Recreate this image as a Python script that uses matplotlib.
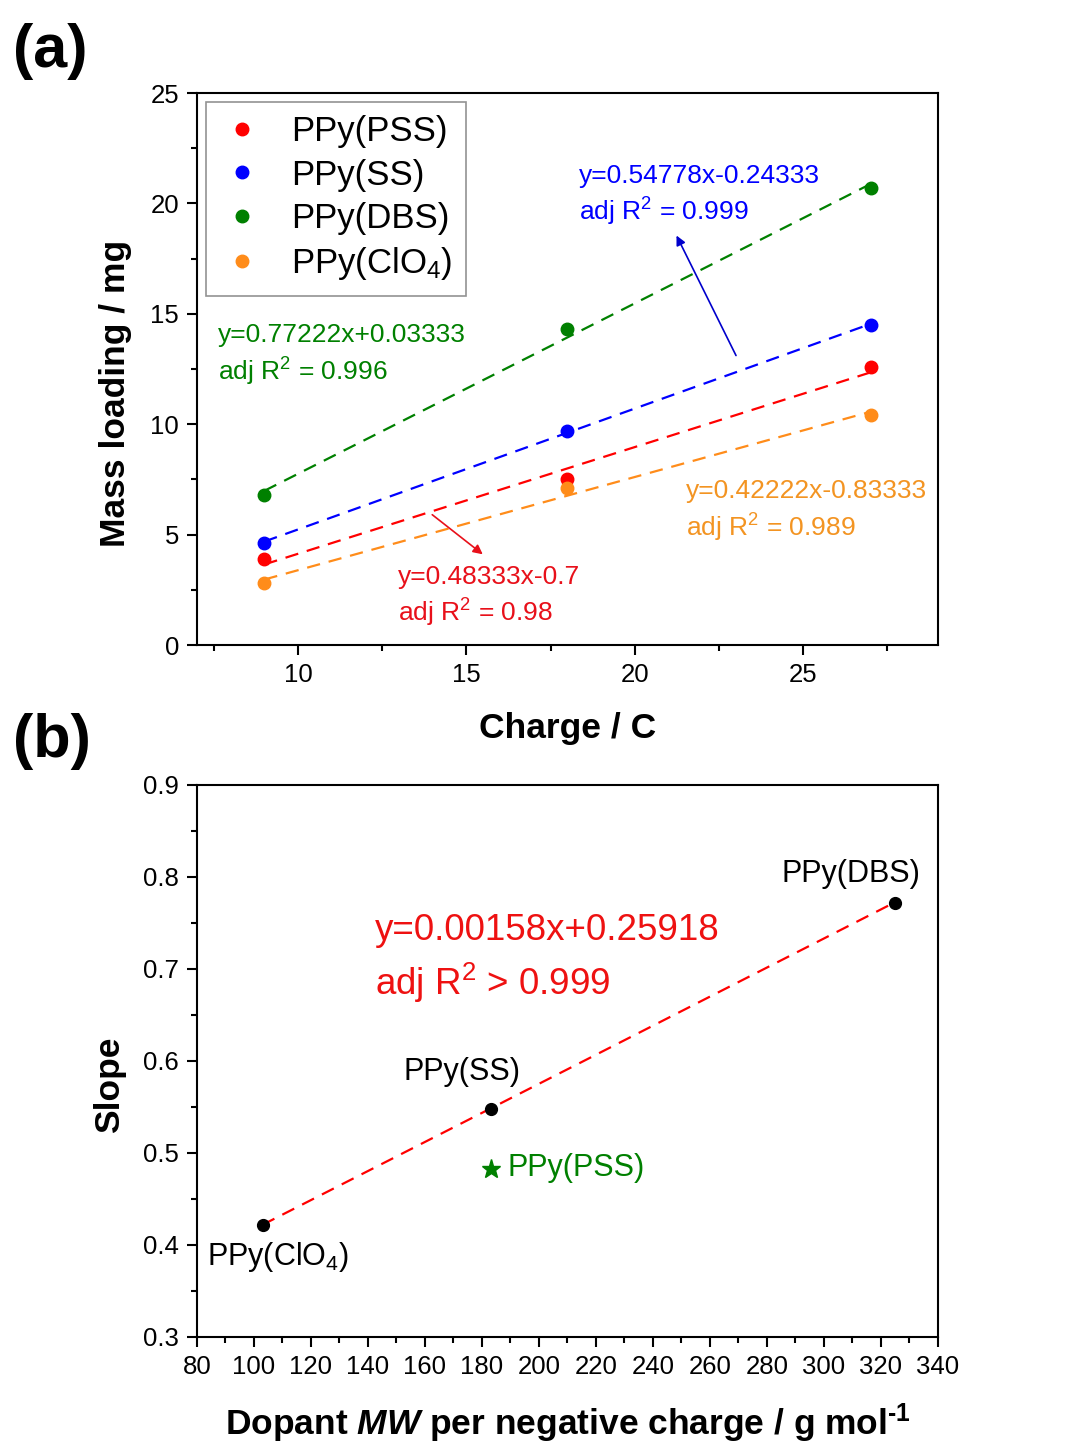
import numpy as np
from matplotlib import pyplot as plt
from matplotlib.ticker import MultipleLocator

plt.rcParams['font.family'] = ['Liberation Sans', 'DejaVu Sans']
plt.rcParams['mathtext.fontset'] = 'custom'
plt.rcParams['mathtext.rm'] = 'Liberation Sans'
plt.rcParams['mathtext.it'] = 'Liberation Sans:italic'
plt.rcParams['mathtext.bf'] = 'Liberation Sans:bold'
plt.rcParams['mathtext.bfit'] = 'Liberation Sans:italic:bold'

# panel (a) data
charge = [9, 18, 27]
names = ['PPy(PSS)', 'PPy(SS)', 'PPy(DBS)', 'PPy(ClO$_4$)']
mass_pss = [3.9, 7.5, 12.6]
mass_ss = [4.6, 9.7, 14.5]
mass_dbs = [6.8, 14.3, 20.7]
mass_clo4 = [2.8, 7.1, 10.4]
slopes = [0.48333, 0.54778, 0.77222, 0.42222]
intercepts = [-0.7, -0.24333, 0.03333, -0.83333]
colors = ['#ff0000', '#0000ff', '#008000', '#ff8c1a']
text_colors = ['#e8101a', '#0000ff', '#008000', '#f39422']

# panel (b) data
mw = [103, 183, 325]
slope_vals = [0.422, 0.548, 0.772]
pt_labels = ['PPy(ClO$_4$)', 'PPy(SS)', 'PPy(DBS)']
pss_mw = 183
pss_slope = 0.483
fit_k, fit_b = 0.00158, 0.25918


def style_axes(ax):
    for s in ax.spines.values():
        s.set_linewidth(1.5)
    ax.tick_params(which='major', direction='out', length=7, width=1.5,
                   labelsize=18.5, pad=6, top=False, right=False)
    ax.tick_params(which='minor', direction='out', length=4, width=1.5,
                   top=False, right=False)


def main():
    fig = plt.figure(figsize=(10.67, 14.43), dpi=100)

    # ---------------- (a)
    ax = fig.add_axes([0.1846, 0.553, 0.6945, 0.3825])
    series = [mass_pss, mass_ss, mass_dbs, mass_clo4]
    xs = np.array([charge[0], charge[-1]])
    for i in range(4):
        ax.plot(charge, series[i], 'o', color=colors[i], ms=9, label=names[i], zorder=3)
        ax.plot(xs, slopes[i] * xs + intercepts[i], '--', color=colors[i],
                lw=1.6, dashes=(6, 4))
    ax.set_xlim(7, 29)
    ax.set_ylim(0, 25)
    ax.xaxis.set_major_locator(MultipleLocator(5))
    ax.xaxis.set_minor_locator(MultipleLocator(2.5))
    ax.yaxis.set_major_locator(MultipleLocator(5))
    ax.yaxis.set_minor_locator(MultipleLocator(2.5))
    style_axes(ax)
    ax.set_xlabel('Charge / C', fontsize=25.5, fontweight='bold', labelpad=18)
    ax.set_ylabel('Mass loading / mg', fontsize=25.5, fontweight='bold')
    ax.yaxis.set_label_coords(-0.088, 0.4565)
    leg = ax.legend(loc='upper left', bbox_to_anchor=(0.012, 0.984), fontsize=25,
                    frameon=True, fancybox=False, borderaxespad=0,
                    handletextpad=0.75, labelspacing=0.3, borderpad=0.38,
                    handlelength=1.33)
    leg.get_frame().set_edgecolor('#777777')
    leg.get_frame().set_linewidth(1.2)

    # fit equations
    eq_pos = [(12.97, 3.08, 1.45), (18.35, 21.24, 19.61),
              (7.62, 14.04, 12.36), (21.52, 6.97, 5.30)]
    r2 = ['0.98', '0.999', '0.996', '0.989']
    for i in range(4):
        k, b = slopes[i], intercepts[i]
        sign = '+' if b >= 0 else '-'
        x0, y1, y2 = eq_pos[i]
        ax.text(x0, y1, 'y=%gx%s%g' % (k, sign, abs(b)), color=text_colors[i],
                fontsize=19, va='center', ha='left')
        ax.text(x0, y2, 'adj R$^2$ = ' + r2[i], color=text_colors[i],
                fontsize=19, va='center', ha='left')
    ax.annotate('', xy=(21.2, 18.66), xytext=(23.04, 13.0),
                arrowprops=dict(arrowstyle='-|>', color='#0000cc', lw=1.2,
                                mutation_scale=14))
    ax.annotate('', xy=(15.55, 4.03), xytext=(13.92, 5.98),
                arrowprops=dict(arrowstyle='-|>', color='#e8101a', lw=1.2,
                                mutation_scale=14))

    # ---------------- (b)
    bx = fig.add_axes([0.1846, 0.0735, 0.6945, 0.3825])
    xf = np.array([mw[0], mw[-1]])
    bx.plot(xf, fit_k * xf + fit_b, '--', color='#ff0000', lw=1.6, dashes=(6, 4))
    bx.plot(mw, slope_vals, 'o', color='black', ms=8.5, zorder=3)
    bx.plot(pss_mw, pss_slope, '*', color='#008000', ms=14, zorder=3)
    bx.set_xlim(80, 340)
    bx.set_ylim(0.3, 0.9)
    bx.xaxis.set_minor_locator(MultipleLocator(10))
    bx.yaxis.set_minor_locator(MultipleLocator(0.05))
    style_axes(bx)
    bx.set_xticks(np.arange(80, 341, 20))
    bx.set_yticks(np.arange(0.3, 0.91, 0.1))
    bx.set_yticklabels(['%.1f' % v for v in np.arange(0.3, 0.91, 0.1)])
    bx.set_xlabel('Dopant $\\mathbfit{MW}$ per negative charge / g mol$^{\\mathbf{\u2010 1}}$',
                  fontsize=25.5, fontweight='bold', labelpad=16)
    bx.set_ylabel('Slope', fontsize=25.5, fontweight='bold')
    bx.yaxis.set_label_coords(-0.096, 0.4565)

    bx.text(83.5, 0.387, pt_labels[0], fontsize=22, ha='left', va='center')
    bx.text(173, 0.588, pt_labels[1], fontsize=22, ha='center', va='center')
    bx.text(309.5, 0.803, pt_labels[2], fontsize=22, ha='center', va='center')
    bx.text(188.8, 0.484, 'PPy(PSS)', fontsize=22, ha='left', va='center', color='#008000')
    bx.text(142.5, 0.742, 'y=%.5fx+%.5f' % (fit_k, fit_b), fontsize=26.5,
            ha='left', va='center', color='#ee1111')
    bx.text(142.5, 0.685, 'adj R$^2$ > 0.999', fontsize=26.5,
            ha='left', va='center', color='#ee1111')

    fig.text(0.012, 1 - 52 / 1443, '(a)', fontsize=44, fontweight='bold', va='center')
    fig.text(0.012, 1 - 742 / 1443, '(b)', fontsize=44, fontweight='bold', va='center')

    fig.savefig('out.png', dpi=100)


if __name__ == "__main__":
    main()
